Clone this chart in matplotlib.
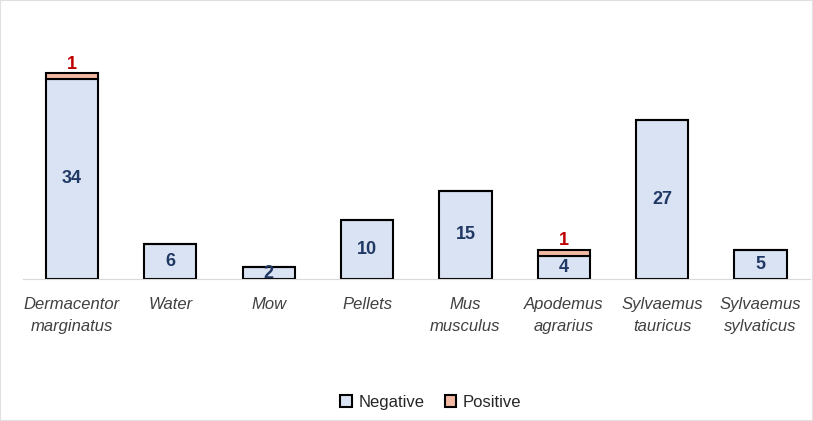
import matplotlib.pyplot as plt
import numpy as np

categories = ["Dermacentor\nmarginatus", "Water", "Mow", "Pellets",
              "Mus\nmusculus", "Apodemus\nagrarius", "Sylvaemus\ntauricus",
              "Sylvaemus\nsylvaticus"]
negative = [34, 6, 2, 10, 15, 4, 27, 5]
positive = [1, 0, 0, 0, 0, 1, 0, 0]

neg_color = "#DAE3F3"
pos_color = "#F4B9A4"
font = ["Liberation Sans Narrow", "Liberation Sans", "DejaVu Sans"]

fig = plt.figure(figsize=(8.13, 4.21), dpi=100)
ax = fig.add_axes([0.028, 0.337, 0.968, 0.532])

x = np.arange(len(categories))
ax.bar(x, negative, width=0.53, color=neg_color, edgecolor="black",
       linewidth=1.5, label="Negative")
ax.bar(x, positive, width=0.53, bottom=negative, color=pos_color,
       edgecolor="black", linewidth=1.5, label="Positive")

for i in range(len(categories)):
    ax.text(x[i], negative[i] / 2, str(negative[i]), ha="center", va="center",
            fontsize=13, fontweight="bold", color="#1F3864", family=font)
    if positive[i]:
        ax.text(x[i], negative[i] + positive[i] + 0.05, str(positive[i]),
                ha="center", va="bottom", fontsize=13, fontweight="bold",
                color="#C00000", family=font)

ax.set_xlim(-0.5, len(categories) - 0.5)
ax.set_ylim(0, 38)
ax.set_xticks(x)
ax.set_xticklabels(categories, fontsize=12, style="italic", color="#404040",
                   family=font, linespacing=1.55)
ax.tick_params(axis="x", length=0, pad=13)
ax.set_yticks([])
for s in ["top", "right", "left"]:
    ax.spines[s].set_visible(False)
ax.spines["bottom"].set_color("#D9D9D9")

leg = fig.legend(loc="center", bbox_to_anchor=(0.53, 0.045), ncol=2,
                 frameon=False, handlelength=0.7, handleheight=0.7,
                 columnspacing=1.2, handletextpad=0.4,
                 prop={"family": font, "size": 12})
for t in leg.get_texts():
    t.set_color("#262626")

fig.patches.append(plt.Rectangle((0, 0), 1, 1, transform=fig.transFigure,
                                 fill=False, edgecolor="#E0E0E0", lw=1.5))

fig.savefig("out.png", dpi=100)
